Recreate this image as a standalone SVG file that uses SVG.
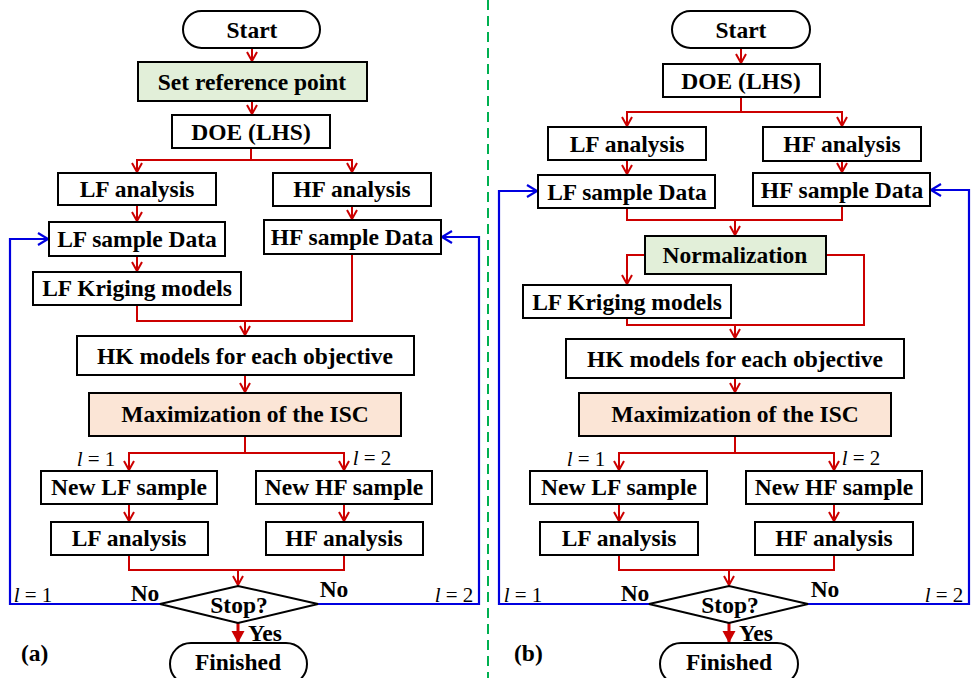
<svg xmlns="http://www.w3.org/2000/svg" width="972" height="678" viewBox="0 0 972 678">
<style>
.box{fill:#fff;stroke:#000;stroke-width:2}
.green{fill:#e2efd9}
.peach{fill:#fbe5d6}
.t{font-family:"Liberation Serif","Times New Roman",serif;font-weight:bold;font-size:23.5px;text-anchor:middle;fill:#000}
.ts{font-family:"Liberation Serif","Times New Roman",serif;font-weight:bold;font-size:23.5px;fill:#000}
.lbl{font-family:"Liberation Serif","Times New Roman",serif;font-size:21px;text-anchor:middle;fill:#000}
.r{fill:none;stroke:#cc0000;stroke-width:2}
.b{fill:none;stroke:#0000e0;stroke-width:2.2}
</style>
<defs>
<marker id="ar" markerWidth="12" markerHeight="12" refX="10" refY="6" orient="auto" markerUnits="userSpaceOnUse" viewBox="0 0 12 12"><path d="M1,1 L10,6 L1,11" fill="none" stroke="#cc0000" stroke-width="2"/></marker>
<marker id="ab" markerWidth="14" markerHeight="14" refX="11" refY="7" orient="auto" markerUnits="userSpaceOnUse" viewBox="0 0 14 14"><path d="M1,1 L11,7 L1,13" fill="none" stroke="#0000e0" stroke-width="2.2"/></marker>
<marker id="af" markerWidth="14" markerHeight="14" refX="12" refY="6.5" orient="auto" markerUnits="userSpaceOnUse" viewBox="0 0 14 13"><path d="M0,0 L12,6.5 L0,13 z" fill="#cc0000"/></marker>
</defs>

<line x1="488" y1="0" x2="488" y2="678" stroke="#00b050" stroke-width="2" stroke-dasharray="10 6"/>

<g id="connectors">
<!-- panel a -->
<path class="r" d="M252,48 V61" marker-end="url(#ar)"/>
<path class="r" d="M252,101 V114" marker-end="url(#ar)"/>
<path class="r" d="M251,148 V160 H137 V172" marker-end="url(#ar)"/>
<path class="r" d="M251,160 H352 V172" marker-end="url(#ar)"/>
<path class="r" d="M137,205 V221" marker-end="url(#ar)"/>
<path class="r" d="M352,206 V219" marker-end="url(#ar)"/>
<path class="r" d="M137,256 V271" marker-end="url(#ar)"/>
<path class="r" d="M137,305 V321 H245 V335" marker-end="url(#ar)"/>
<path class="r" d="M352,254 V321 H245"/>
<path class="r" d="M245,375 V392" marker-end="url(#ar)"/>
<path class="r" d="M245,436 V453 H129 V470" marker-end="url(#ar)"/>
<path class="r" d="M245,453 H344 V470" marker-end="url(#ar)"/>
<path class="r" d="M129,504 V521" marker-end="url(#ar)"/>
<path class="r" d="M344,504 V521" marker-end="url(#ar)"/>
<path class="r" d="M129,555 V570 H238 V585" marker-end="url(#ar)"/>
<path class="r" d="M344,555 V570 H238"/>
<path d="M238,623 V643" fill="none" stroke="#cc0000" stroke-width="3" marker-end="url(#af)"/>
<path class="b" d="M160,604 H10 V239 H48" marker-end="url(#ab)"/>
<path class="b" d="M318,604 H479 V237 H442" marker-end="url(#ab)"/>
<!-- panel b -->
<path class="r" d="M741,48 V63" marker-end="url(#ar)"/>
<path class="r" d="M741,97 V112 H627 V126" marker-end="url(#ar)"/>
<path class="r" d="M741,112 H842 V126" marker-end="url(#ar)"/>
<path class="r" d="M627,160 V174" marker-end="url(#ar)"/>
<path class="r" d="M842,161 V172" marker-end="url(#ar)"/>
<path class="r" d="M627,208 V220 H735 V235" marker-end="url(#ar)"/>
<path class="r" d="M842,206 V220 H735"/>
<path class="r" d="M645,255 H627 V284" marker-end="url(#ar)"/>
<path class="r" d="M826,255 H864 V325 H735 V338" marker-end="url(#ar)"/>
<path class="r" d="M627,318 V325 H735"/>
<path class="r" d="M735,378 V392" marker-end="url(#ar)"/>
<path class="r" d="M735,436 V453 H619 V470" marker-end="url(#ar)"/>
<path class="r" d="M735,453 H834 V470" marker-end="url(#ar)"/>
<path class="r" d="M619,504 V521" marker-end="url(#ar)"/>
<path class="r" d="M834,504 V521" marker-end="url(#ar)"/>
<path class="r" d="M619,555 V570 H729 V585" marker-end="url(#ar)"/>
<path class="r" d="M834,555 V570 H729"/>
<path d="M729,623 V643" fill="none" stroke="#cc0000" stroke-width="3" marker-end="url(#af)"/>
<path class="b" d="M649,604 H499 V191 H537" marker-end="url(#ab)"/>
<path class="b" d="M808,604 H969 V190 H931" marker-end="url(#ab)"/>
</g>

<!-- panel a nodes -->
<g id="startA"><rect class="box" x="183" y="11" width="137" height="37" rx="18.5"/><text class="t" x="252" y="38">Start</text></g>
<g id="refA"><rect class="box green" x="138" y="62" width="229" height="39"/><text class="t" x="252" y="90">Set reference point</text></g>
<g id="doeA"><rect class="box" x="172" y="115" width="158" height="33"/><text class="t" x="251" y="140">DOE (LHS)</text></g>
<g id="lfaA"><rect class="box" x="58" y="173" width="158" height="32"/><text class="t" x="137" y="197">LF analysis</text></g>
<g id="hfaA"><rect class="box" x="273" y="173" width="158" height="33"/><text class="t" x="352" y="197">HF analysis</text></g>
<g id="lfsA"><rect class="box" x="49" y="222" width="176" height="34"/><text class="t" x="137" y="247">LF sample Data</text></g>
<g id="hfsA"><rect class="box" x="264" y="220" width="177" height="34"/><text class="t" x="352" y="245">HF sample Data</text></g>
<g id="lfkA"><rect class="box" x="33" y="272" width="208" height="33"/><text class="t" x="137" y="296">LF Kriging models</text></g>
<g id="hkA"><rect class="box" x="77" y="336" width="337" height="39"/><text class="t" x="245" y="364">HK models for each objective</text></g>
<g id="maxA"><rect class="box peach" x="89" y="393" width="312" height="43"/><text class="t" x="245" y="422">Maximization of the ISC</text></g>
<g id="nlfA"><rect class="box" x="41" y="471" width="176" height="33"/><text class="t" x="129" y="495">New LF sample</text></g>
<g id="nhfA"><rect class="box" x="256" y="471" width="176" height="33"/><text class="t" x="344" y="495">New HF sample</text></g>
<g id="lfa2A"><rect class="box" x="51" y="522" width="157" height="33"/><text class="t" x="129" y="546">LF analysis</text></g>
<g id="hfa2A"><rect class="box" x="266" y="522" width="157" height="33"/><text class="t" x="344" y="546">HF analysis</text></g>
<g id="stopA"><polygon class="box" points="160,604 238,586 318,604 238,623"/><text class="t" x="239" y="613">Stop?</text></g>
<g id="finA"><rect class="box" x="170" y="643" width="137" height="42" rx="21"/><text class="t" x="238" y="670">Finished</text></g>

<!-- panel b nodes -->
<g id="startB"><rect class="box" x="672" y="11" width="138" height="37" rx="18.5"/><text class="t" x="741" y="38">Start</text></g>
<g id="doeB"><rect class="box" x="663" y="64" width="157" height="33"/><text class="t" x="741" y="89">DOE (LHS)</text></g>
<g id="lfaB"><rect class="box" x="548" y="127" width="158" height="33"/><text class="t" x="627" y="152">LF analysis</text></g>
<g id="hfaB"><rect class="box" x="763" y="127" width="158" height="34"/><text class="t" x="842" y="152">HF analysis</text></g>
<g id="lfsB"><rect class="box" x="538" y="175" width="177" height="33"/><text class="t" x="627" y="200">LF sample Data</text></g>
<g id="hfsB"><rect class="box" x="753" y="173" width="177" height="33"/><text class="t" x="842" y="198">HF sample Data</text></g>
<g id="normB"><rect class="box green" x="645" y="236" width="181" height="38"/><text class="t" x="735" y="263">Normalization</text></g>
<g id="lfkB"><rect class="box" x="523" y="285" width="208" height="33"/><text class="t" x="627" y="310">LF Kriging models</text></g>
<g id="hkB"><rect class="box" x="566" y="339" width="338" height="39"/><text class="t" x="735" y="367">HK models for each objective</text></g>
<g id="maxB"><rect class="box peach" x="579" y="393" width="312" height="43"/><text class="t" x="735" y="422">Maximization of the ISC</text></g>
<g id="nlfB"><rect class="box" x="530" y="471" width="177" height="33"/><text class="t" x="619" y="495">New LF sample</text></g>
<g id="nhfB"><rect class="box" x="746" y="471" width="176" height="33"/><text class="t" x="834" y="495">New HF sample</text></g>
<g id="lfa2B"><rect class="box" x="540" y="522" width="158" height="33"/><text class="t" x="619" y="546">LF analysis</text></g>
<g id="hfa2B"><rect class="box" x="755" y="522" width="158" height="33"/><text class="t" x="834" y="546">HF analysis</text></g>
<g id="stopB"><polygon class="box" points="649,604 729,586 808,604 729,623"/><text class="t" x="730" y="613">Stop?</text></g>
<g id="finB"><rect class="box" x="660" y="643" width="138" height="42" rx="21"/><text class="t" x="729" y="670">Finished</text></g>

<g id="labels">
<text class="lbl" x="96" y="466"><tspan font-style="italic">l</tspan> = 1</text>
<text class="lbl" x="372" y="465"><tspan font-style="italic">l</tspan> = 2</text>
<text class="lbl" x="33" y="602"><tspan font-style="italic">l</tspan> = 1</text>
<text class="lbl" x="454" y="602"><tspan font-style="italic">l</tspan> = 2</text>
<text class="t" x="145" y="601">No</text>
<text class="t" x="334" y="597">No</text>
<text class="ts" x="248" y="641">Yes</text>
<text class="ts" x="21" y="661">(a)</text>
<text class="lbl" x="586" y="466"><tspan font-style="italic">l</tspan> = 1</text>
<text class="lbl" x="861" y="465"><tspan font-style="italic">l</tspan> = 2</text>
<text class="lbl" x="523" y="602"><tspan font-style="italic">l</tspan> = 1</text>
<text class="lbl" x="944" y="602"><tspan font-style="italic">l</tspan> = 2</text>
<text class="t" x="635" y="601">No</text>
<text class="t" x="825" y="597">No</text>
<text class="ts" x="739" y="641">Yes</text>
<text class="ts" x="514" y="661">(b)</text>
</g>
</svg>
